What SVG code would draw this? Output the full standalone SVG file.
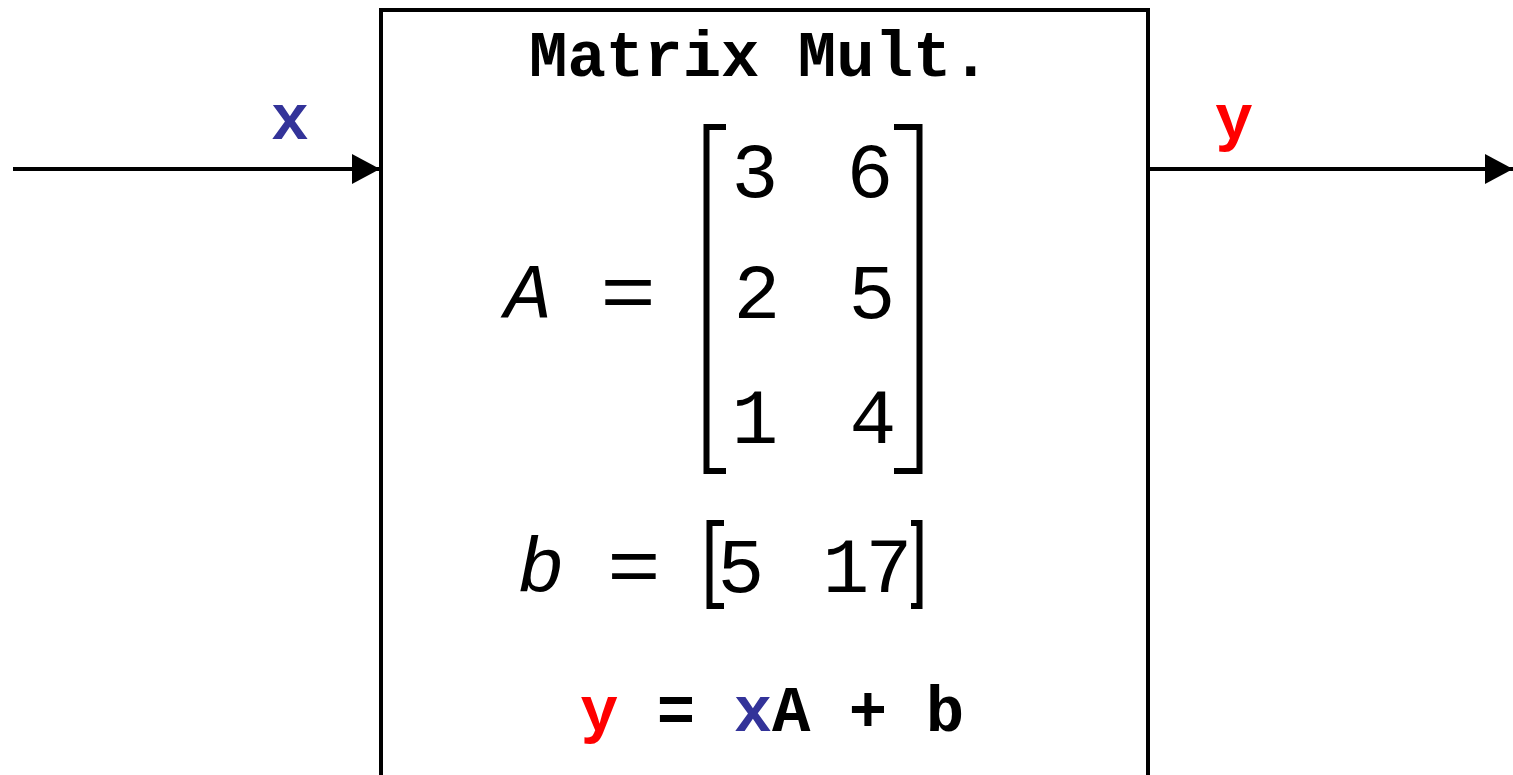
<svg xmlns="http://www.w3.org/2000/svg" width="1513" height="775" viewBox="0 0 1513 775">
<style>
.lbl{font-family:"Courier New","Liberation Mono",monospace;font-weight:bold;font-size:64px}
.math{font-family:"Liberation Mono","DejaVu Sans Mono",monospace;font-size:78px;fill:#000;text-anchor:middle}
.it{font-style:italic}
.br{fill:none;stroke:#000;stroke-width:6}
.wire{stroke:#000;stroke-width:4;fill:none}
</style>
<defs>
<marker id="ah" viewBox="0 0 28 30" refX="28" refY="15" markerWidth="28" markerHeight="30" markerUnits="userSpaceOnUse" orient="auto">
<path d="M0,0 L28,15 L0,30 Z" fill="#000"/>
</marker>
</defs>
<rect width="1513" height="775" fill="#fff"/>
<g id="connectors">
<line class="wire" x1="13" y1="169" x2="380" y2="169" marker-end="url(#ah)"/>
<line class="wire" x1="1148" y1="169" x2="1513" y2="169" marker-end="url(#ah)"/>
<text class="lbl" x="290" y="139" text-anchor="middle" fill="#333399">x</text>
<text class="lbl" x="1234" y="139" text-anchor="middle" fill="#ff0000">y</text>
</g>
<g id="block">
<rect x="381" y="10" width="767" height="780" fill="none" stroke="#000" stroke-width="4"/>
<text class="lbl" x="529" y="76" fill="#000">Matrix Mult.</text>
<text class="math it" x="528" y="318">A</text>
<text class="math" x="0" y="318" transform="translate(628,0) scale(1.2,1)">=</text>
<path class="br" d="M726,127 H706.5 V471 H726"/>
<path class="br" d="M894,127 H919.5 V471 H894"/>
<text class="math" x="755" y="197">3</text>
<text class="math" x="870" y="197">6</text>
<text class="math" x="757" y="318">2</text>
<text class="math" x="872" y="318">5</text>
<text class="math" x="755" y="443">1</text>
<text class="math" x="873" y="443">4</text>
<text class="math it" x="541" y="592">b</text>
<text class="math" x="0" y="592" transform="translate(634,0) scale(1.15,1)">=</text>
<path class="br" d="M724,523 H709.5 V606 H724"/>
<path class="br" d="M911,523 H919.5 V606 H911"/>
<text class="math" x="741" y="592">5</text>
<text class="math" x="846" y="592">1</text>
<text class="math" x="889" y="592">7</text>
<text class="lbl" x="580" y="731"><tspan fill="#ff0000">y</tspan><tspan fill="#000"> = </tspan><tspan fill="#333399">x</tspan><tspan fill="#000">A + b</tspan></text>
</g>
</svg>
